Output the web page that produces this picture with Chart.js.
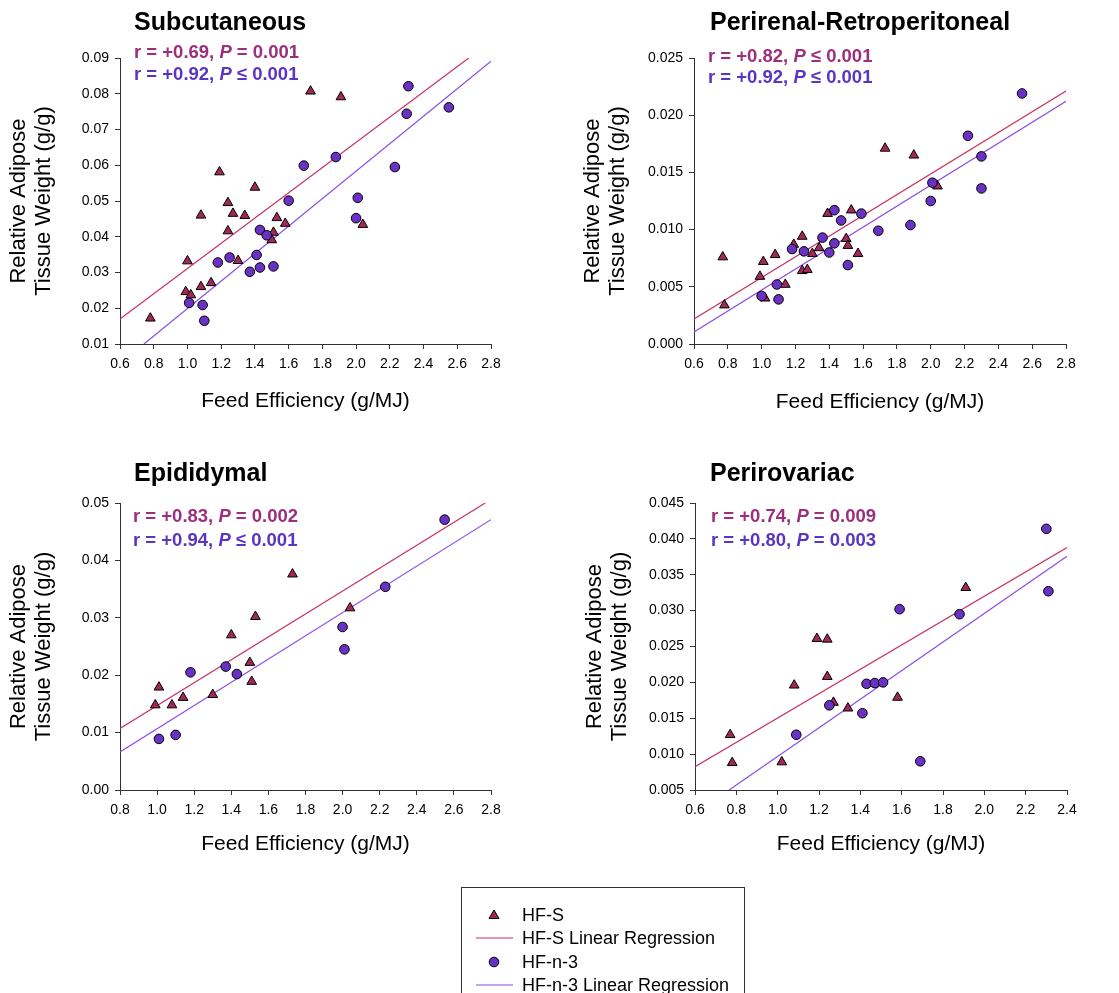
<!DOCTYPE html>
<html>
<head>
<meta charset="utf-8">
<script src="https://cdn.jsdelivr.net/npm/chart.js@4.4.0/dist/chart.umd.min.js"></script>
<style>
body { margin:0; background:#fff; width:1119px; height:993px; position:relative; overflow:hidden; font-family:"Liberation Sans", Arial, sans-serif; }
canvas { position:absolute; }
.ttl { position:absolute; font-weight:bold; font-size:25px; line-height:25px; color:#000; white-space:nowrap; }
.stat { position:absolute; font-weight:bold; font-size:18.5px; line-height:18.5px; white-space:nowrap; }
.hfs { color:#9c2f7d; }
.n3 { color:#5a35c2; }
#legend { position:absolute; left:461px; top:887px; width:284px; height:120px; border:1px solid #333; box-sizing:border-box; }
.lg { position:absolute; left:60px; font-size:18px; line-height:18px; color:#000; white-space:nowrap; }
.lg svg { position:absolute; left:-48px; top:-2px; }
</style>
</head>
<body>
<canvas id="c1" width="560" height="440" style="left:0;top:0"></canvas>
<canvas id="c2" width="559" height="440" style="left:560px;top:0"></canvas>
<canvas id="c3" width="560" height="440" style="left:0;top:450px"></canvas>
<canvas id="c4" width="559" height="440" style="left:560px;top:450px"></canvas>

<div class="ttl" style="left:134px;top:9px">Subcutaneous</div>
<div class="stat hfs" style="left:134px;top:43px">r = +0.69, <i>P</i> = 0.001</div>
<div class="stat n3" style="left:134px;top:65px">r = +0.92, <i>P</i> ≤ 0.001</div>

<div class="ttl" style="left:710px;top:9px">Perirenal-Retroperitoneal</div>
<div class="stat hfs" style="left:708px;top:47px">r = +0.82, <i>P</i> ≤ 0.001</div>
<div class="stat n3" style="left:708px;top:68px">r = +0.92, <i>P</i> ≤ 0.001</div>

<div class="ttl" style="left:134px;top:460px">Epididymal</div>
<div class="stat hfs" style="left:133px;top:507px">r = +0.83, <i>P</i> = 0.002</div>
<div class="stat n3" style="left:133px;top:531px">r = +0.94, <i>P</i> ≤ 0.001</div>

<div class="ttl" style="left:710px;top:460px">Perirovariac</div>
<div class="stat hfs" style="left:711px;top:507px">r = +0.74, <i>P</i> = 0.009</div>
<div class="stat n3" style="left:711px;top:531px">r = +0.80, <i>P</i> = 0.003</div>

<div id="legend">
  <div class="lg" style="top:18px"><svg width="40" height="22"><polygon points="20,6 25,14.5 15,14.5" fill="#a3285a" stroke="#000" stroke-width="1"/></svg>HF-S</div>
  <div class="lg" style="top:41px"><svg width="40" height="22"><line x1="2" y1="11" x2="39" y2="11" stroke="#c8325e" stroke-width="1.2"/></svg>HF-S Linear Regression</div>
  <div class="lg" style="top:65px"><svg width="40" height="22"><circle cx="20" cy="11" r="4.8" fill="#6a32c4" stroke="#000" stroke-width="1"/></svg>HF-n-3</div>
  <div class="lg" style="top:88px"><svg width="40" height="22"><line x1="2" y1="11" x2="39" y2="11" stroke="#8a4de6" stroke-width="1.2"/></svg>HF-n-3 Linear Regression</div>
</div>

<script>
// tick labels
const xTicksWide = ['0.6','0.8','1.0','1.2','1.4','1.6','1.8','2.0','2.2','2.4','2.6','2.8'];
const xTicksEpi = ['0.8','1.0','1.2','1.4','1.6','1.8','2.0','2.2','2.4','2.6','2.8'];
const xTicksOva = ['0.6','0.8','1.0','1.2','1.4','1.6','1.8','2.0','2.2','2.4'];
const yTicksSub = ['0.01','0.02','0.03','0.04','0.05','0.06','0.07','0.08','0.09'];
const yTicksPer = ['0.000','0.005','0.010','0.015','0.020','0.025'];
const yTicksEpi = ['0.00','0.01','0.02','0.03','0.04','0.05'];
const yTicksOva = ['0.005','0.010','0.015','0.020','0.025','0.030','0.035','0.040','0.045'];

// Subcutaneous
const subHfsX = [0.78,1.00,0.99,1.02,1.08,1.08,1.14,1.19,1.24,1.24,1.27,1.30,1.34,1.40,1.51,1.50,1.53,1.58,1.73,1.91,2.04];
const subHfsY = [0.0172,0.0332,0.0246,0.0237,0.0260,0.0460,0.0271,0.0581,0.0495,0.0416,0.0465,0.0333,0.0459,0.0538,0.0412,0.0391,0.0453,0.0437,0.0807,0.0791,0.0434];
const subN3X = [1.01,1.09,1.10,1.18,1.25,1.37,1.41,1.43,1.43,1.47,1.51,1.60,1.69,1.88,2.01,2.00,2.23,2.30,2.31,2.55];
const subN3Y = [0.0215,0.0209,0.0165,0.0328,0.0342,0.0302,0.0349,0.0419,0.0314,0.0404,0.0317,0.0501,0.0599,0.0623,0.0509,0.0452,0.0595,0.0744,0.0821,0.0762];
const subHfsFitX = [0.6, 2.668], subHfsFitY = [0.0170, 0.0900];
const subN3FitX = [0.742, 2.8], subN3FitY = [0.0100, 0.0891];

// Perirenal-Retroperitoneal
const perHfsX = [0.77,0.78,0.99,1.01,1.02,1.08,1.14,1.19,1.24,1.24,1.27,1.30,1.34,1.39,1.50,1.51,1.53,1.57,1.73,1.90,2.04];
const perHfsY = [0.0076,0.0034,0.0059,0.0072,0.0040,0.0078,0.0052,0.0087,0.0094,0.0064,0.0065,0.0079,0.0084,0.0114,0.0092,0.0086,0.0117,0.0079,0.0171,0.0165,0.0138];
const perN3X = [1.00,1.09,1.10,1.18,1.25,1.36,1.40,1.43,1.43,1.47,1.51,1.59,1.69,1.88,2.01,2.00,2.22,2.30,2.30,2.54];
const perN3Y = [0.0042,0.0052,0.0039,0.0083,0.0081,0.0093,0.0080,0.0117,0.0088,0.0108,0.0069,0.0114,0.0099,0.0104,0.0141,0.0125,0.0182,0.0164,0.0136,0.0219];
const perHfsFitX = [0.6, 2.8], perHfsFitY = [0.00218, 0.02212];
const perN3FitX = [0.6, 2.8], perN3FitY = [0.00105, 0.02122];

// Epididymal
const epiHfsX = [0.99,1.01,1.08,1.14,1.30,1.40,1.50,1.51,1.53,1.73,2.04];
const epiHfsY = [0.0148,0.0179,0.0148,0.0161,0.0166,0.0270,0.0222,0.0189,0.0302,0.0376,0.0317];
const epiN3X = [1.01,1.10,1.18,1.37,1.43,2.00,2.01,2.23,2.55];
const epiN3Y = [0.0089,0.0096,0.0205,0.0215,0.0202,0.0284,0.0245,0.0354,0.0471];
const epiHfsFitX = [0.8, 2.769], epiHfsFitY = [0.01073, 0.0500];
const epiN3FitX = [0.8, 2.8], epiN3FitY = [0.00661, 0.0471];

// Perirovariac
const ovaHfsX = [0.77,0.78,1.02,1.08,1.19,1.24,1.24,1.27,1.34,1.58,1.91];
const ovaHfsY = [0.0127,0.0088,0.0089,0.0196,0.0261,0.0260,0.0208,0.0172,0.0164,0.0179,0.0332];
const ovaN3X = [1.09,1.25,1.41,1.43,1.47,1.51,1.59,1.69,1.88,2.30,2.31];
const ovaN3Y = [0.0127,0.0168,0.0157,0.0198,0.0199,0.0200,0.0302,0.0090,0.0295,0.0414,0.0327];
const ovaHfsFitX = [0.6, 2.4], ovaHfsFitY = [0.00825, 0.03878];
const ovaN3FitX = [0.765, 2.4], ovaN3FitY = [0.0050, 0.03758];

const hfsFill = '#a3285a', n3Fill = '#6a32c4';
const hfsLine = '#c8325e', n3Line = '#8a4de6';
const axisCol = '#333';

function pts(xs, ys) { return xs.map((x, i) => ({x: x, y: ys[i]})); }

function tickScale(labels, opts) {
  return {
    type: 'linear',
    min: parseFloat(labels[0]),
    max: parseFloat(labels[labels.length - 1]),
    afterBuildTicks: s => { s.ticks = labels.map(l => ({value: parseFloat(l)})); },
    ticks: { callback: (v, i) => labels[i], color: '#000', font: {family: 'Liberation Sans', size: 14}, padding: opts.tickPad, maxRotation: 0, autoSkip: false },
    grid: { display: true, drawOnChartArea: false, drawTicks: true, tickLength: 5, color: axisCol },
    border: { display: true, color: axisCol, width: 1 },
    title: opts.title,
    afterFit: opts.afterFit
  };
}

function makeChart(id, c) {
  new Chart(document.getElementById(id), {
    type: 'scatter',
    data: {
      datasets: [
        { label: 'HF-n-3', data: pts(c.n3X, c.n3Y), pointStyle: 'circle', pointRadius: 4.8, pointBackgroundColor: n3Fill, pointBorderColor: '#000', pointBorderWidth: 1, order: 1 },
        { label: 'HF-S', data: pts(c.hfsX, c.hfsY), pointStyle: 'triangle', pointRadius: 5.6, pointBackgroundColor: hfsFill, pointBorderColor: '#000', pointBorderWidth: 1, order: 2 },
        { type: 'line', label: 'HF-n-3 Linear Regression', data: pts(c.n3FitX, c.n3FitY), borderColor: n3Line, borderWidth: 1.2, pointRadius: 0, fill: false, order: 3 },
        { type: 'line', label: 'HF-S Linear Regression', data: pts(c.hfsFitX, c.hfsFitY), borderColor: hfsLine, borderWidth: 1.2, pointRadius: 0, fill: false, order: 4 }
      ]
    },
    options: {
      responsive: false,
      animation: false,
      layout: { padding: { left: 0, top: c.top, right: c.right, bottom: 0 } },
      plugins: { legend: { display: false }, tooltip: { enabled: false } },
      scales: {
        x: tickScale(c.xTicks, {
          tickPad: 7,
          title: { display: true, text: 'Feed Efficiency (g/MJ)', color: '#000', font: {family: 'Liberation Sans', size: 21}, padding: {top: 0, bottom: c.xTitlePad} },
          afterFit: s => { s.height = c.xHeight; }
        }),
        y: tickScale(c.yTicks, {
          tickPad: 6,
          title: { display: true, text: ['Relative Adipose', 'Tissue Weight (g/g)'], color: '#000', font: {family: 'Liberation Sans', size: 22, lineHeight: 1.12}, padding: {top: c.yTitlePad, bottom: 0} },
          afterFit: s => { s.width = c.yWidth; }
        })
      }
    }
  });
}

makeChart('c1', { hfsX: subHfsX, hfsY: subHfsY, n3X: subN3X, n3Y: subN3Y, hfsFitX: subHfsFitX, hfsFitY: subHfsFitY, n3FitX: subN3FitX, n3FitY: subN3FitY,
  xTicks: xTicksWide, yTicks: yTicksSub, top: 58, right: 69, yWidth: 120, xHeight: 96, yTitlePad: 7, xTitlePad: 26 });
makeChart('c2', { hfsX: perHfsX, hfsY: perHfsY, n3X: perN3X, n3Y: perN3Y, hfsFitX: perHfsFitX, hfsFitY: perHfsFitY, n3FitX: perN3FitX, n3FitY: perN3FitY,
  xTicks: xTicksWide, yTicks: yTicksPer, top: 58, right: 53, yWidth: 134, xHeight: 96, yTitlePad: 21, xTitlePad: 25 });
makeChart('c3', { hfsX: epiHfsX, hfsY: epiHfsY, n3X: epiN3X, n3Y: epiN3Y, hfsFitX: epiHfsFitX, hfsFitY: epiHfsFitY, n3FitX: epiN3FitX, n3FitY: epiN3FitY,
  xTicks: xTicksEpi, yTicks: yTicksEpi, top: 53, right: 69, yWidth: 120, xHeight: 100, yTitlePad: 7, xTitlePad: 33 });
makeChart('c4', { hfsX: ovaHfsX, hfsY: ovaHfsY, n3X: ovaN3X, n3Y: ovaN3Y, hfsFitX: ovaHfsFitX, hfsFitY: ovaHfsFitY, n3FitX: ovaN3FitX, n3FitY: ovaN3FitY,
  xTicks: xTicksOva, yTicks: yTicksOva, top: 53, right: 52, yWidth: 135, xHeight: 100, yTitlePad: 23, xTitlePad: 33 });
</script>
</body>
</html>
